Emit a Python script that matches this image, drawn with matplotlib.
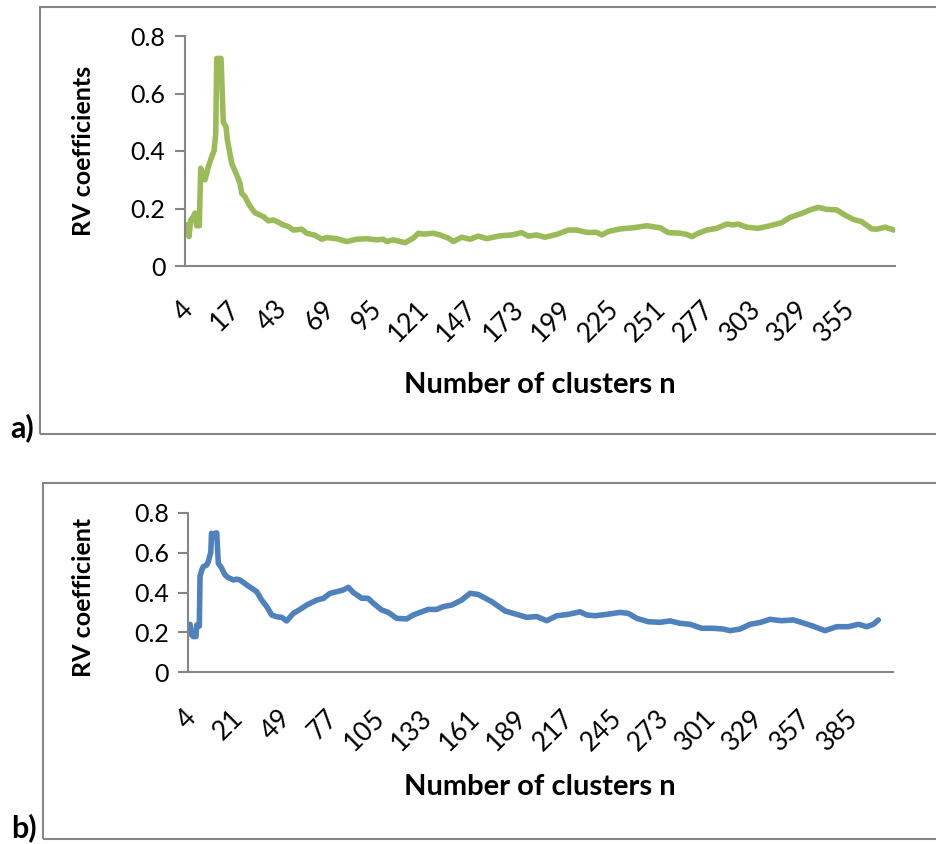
import matplotlib
matplotlib.use("Agg")
import matplotlib.pyplot as plt
from matplotlib.patches import Rectangle
from matplotlib.transforms import ScaledTranslation

plt.rcParams['font.family'] = ['Lato', 'DejaVu Sans']

# ---- data -------------------------------------------------------------
# Positions are measured along the category axis in units of one label step.
labels_a = ['4', '17', '43', '69', '95', '121', '147', '173', '199', '225',
            '251', '277', '303', '329', '355']
pos_a = [0.036, 0.085, 0.12, 0.17, 0.211, 0.247, 0.302, 0.332, 0.387, 0.423,
         0.492, 0.564, 0.613, 0.649, 0.67, 0.761, 0.809, 0.866, 0.894, 0.987,
         1.092, 1.162, 1.198, 1.268, 1.337, 1.409, 1.479, 1.654, 1.76, 1.866,
         1.937, 2.077, 2.183, 2.288, 2.466, 2.571, 2.747, 2.888, 2.994, 3.205,
         3.416, 3.628, 3.839, 4.05, 4.19, 4.262, 4.401, 4.648, 4.824, 4.929,
         5.035, 5.246, 5.388, 5.563, 5.669, 5.846, 6.022, 6.197, 6.374, 6.655,
         6.903, 7.114, 7.253, 7.431, 7.606, 7.853, 8.098, 8.276, 8.487, 8.699,
         8.804, 8.944, 9.191, 9.472, 9.755, 10.036, 10.211, 10.458, 10.6, 10.706,
         10.845, 11.023, 11.234, 11.445, 11.585, 11.684, 11.868, 12.113, 12.36, 12.607,
         12.783, 13.03, 13.205, 13.381, 13.558, 13.769, 13.945, 14.12, 14.297, 14.509,
         14.615, 14.79, 14.98]
rv_a = [0.143, 0.102, 0.16, 0.17, 0.184, 0.14, 0.14, 0.34, 0.31, 0.30,
        0.345, 0.38, 0.40, 0.46, 0.722, 0.722, 0.50, 0.485, 0.44, 0.357,
        0.317, 0.288, 0.253, 0.241, 0.218, 0.20, 0.185, 0.172, 0.157, 0.16,
        0.155, 0.143, 0.137, 0.125, 0.128, 0.114, 0.107, 0.093, 0.099, 0.095,
        0.085, 0.093, 0.095, 0.091, 0.093, 0.085, 0.091, 0.081, 0.097, 0.114,
        0.111, 0.114, 0.108, 0.097, 0.085, 0.10, 0.093, 0.104, 0.095, 0.105,
        0.108, 0.116, 0.104, 0.108, 0.10, 0.11, 0.125, 0.125, 0.117, 0.117,
        0.108, 0.12, 0.129, 0.133, 0.14, 0.133, 0.116, 0.114, 0.11, 0.102,
        0.114, 0.125, 0.131, 0.146, 0.143, 0.146, 0.135, 0.131, 0.14, 0.151,
        0.169, 0.183, 0.195, 0.204, 0.197, 0.195, 0.177, 0.162, 0.154, 0.129,
        0.128, 0.135, 0.125]

labels_b = ['4', '21', '49', '77', '105', '133', '161', '189', '217', '245',
            '273', '301', '329', '357', '385']
pos_b = [0.0, 0.036, 0.072, 0.106, 0.163, 0.178, 0.233, 0.248, 0.284, 0.317,
         0.389, 0.423, 0.459, 0.476, 0.491, 0.529, 0.565, 0.601, 0.635, 0.707,
         0.777, 0.846, 0.952, 1.024, 1.094, 1.236, 1.375, 1.447, 1.553, 1.659,
         1.765, 1.871, 1.976, 2.082, 2.222, 2.364, 2.505, 2.717, 2.857, 2.998,
         3.14, 3.28, 3.386, 3.491, 3.669, 3.802, 3.915, 4.092, 4.232, 4.41,
         4.621, 4.761, 4.903, 5.078, 5.256, 5.396, 5.573, 5.785, 5.961, 6.136,
         6.42, 6.701, 6.949, 7.16, 7.372, 7.584, 7.795, 8.041, 8.288, 8.43,
         8.606, 8.853, 9.135, 9.31, 9.488, 9.733, 9.981, 10.193, 10.404, 10.616,
         10.863, 11.109, 11.32, 11.462, 11.674, 11.885, 12.097, 12.308, 12.556, 12.801,
         12.979, 13.191, 13.472, 13.72, 13.965, 14.177, 14.355, 14.494, 14.6]
rv_b = [0.236, 0.24, 0.186, 0.178, 0.178, 0.236, 0.231, 0.48, 0.513, 0.53,
        0.538, 0.555, 0.589, 0.60, 0.698, 0.68, 0.698, 0.70, 0.547, 0.522,
        0.488, 0.475, 0.463, 0.467, 0.463, 0.438, 0.416, 0.404, 0.362, 0.329,
        0.287, 0.278, 0.275, 0.257, 0.295, 0.315, 0.337, 0.362, 0.37, 0.396,
        0.404, 0.413, 0.426, 0.40, 0.371, 0.371, 0.346, 0.312, 0.30, 0.27,
        0.267, 0.287, 0.30, 0.315, 0.315, 0.329, 0.337, 0.362, 0.396, 0.39,
        0.354, 0.307, 0.29, 0.275, 0.279, 0.258, 0.283, 0.29, 0.303, 0.287,
        0.283, 0.29, 0.30, 0.295, 0.27, 0.253, 0.25, 0.257, 0.245, 0.24,
        0.22, 0.22, 0.216, 0.208, 0.216, 0.24, 0.249, 0.265, 0.258, 0.262,
        0.249, 0.233, 0.208, 0.228, 0.228, 0.24, 0.228, 0.24, 0.262]

yticks = [0, 0.2, 0.4, 0.6, 0.8]
ytick_labels = ['0', '0.2', '0.4', '0.6', '0.8']

# ---- layout helpers (pixel coordinates, origin top-left) --------------
W, H = 936, 844
DPI = 100
fig = plt.figure(figsize=(W / DPI, H / DPI), dpi=DPI)

GRAY = '#868686'


def px_axes(left, top, right, bottom):
    return fig.add_axes([left / W, 1 - bottom / H, (right - left) / W, (bottom - top) / H])


def frame(left, top, bottom):
    fig.patches.append(Rectangle((left / W, 1 - bottom / H), (W + 20 - left) / W,
                                 (bottom - top) / H, transform=fig.transFigure,
                                 fill=False, edgecolor=GRAY, linewidth=1.5,
                                 clip_on=False))


def panel(ax, pos, rv, labels, xmax, color, ylabel, label_drop, tag, tag_xy,
          xlabel_y, ylabel_y):
    ax.plot(pos, rv, color=color, linewidth=4.0, solid_joinstyle='round',
            solid_capstyle='round')
    ax.set_xlim(0, xmax)
    ax.set_ylim(0, 0.8)
    ax.set_yticks(yticks)
    ax.set_yticklabels(ytick_labels)
    ax.set_xticks(range(len(labels)))
    ax.set_xticklabels(labels, rotation=45, ha='right', va='top',
                       rotation_mode='anchor')
    for s in ('top', 'right'):
        ax.spines[s].set_visible(False)
    for s in ('left', 'bottom'):
        ax.spines[s].set_color(GRAY)
        ax.spines[s].set_linewidth(1.5)
    ax.tick_params(axis='y', direction='out', length=7, width=1.5, color=GRAY,
                   labelsize=18, pad=7, labelcolor='black')
    ax.tick_params(axis='x', length=0, labelsize=19, pad=label_drop,
                   labelcolor='black')
    off = ScaledTranslation(-5 / DPI, 0, fig.dpi_scale_trans)
    for t in ax.get_xticklabels():
        t.set_transform(t.get_transform() + off)
    ax.set_ylabel(ylabel, fontsize=18, fontweight='bold')
    ax.yaxis.set_label_coords(95 / W, 1 - ylabel_y / H, transform=fig.transFigure)
    fig.text(540 / W, 1 - xlabel_y / H, 'Number of clusters n', fontsize=21,
             fontweight='bold', ha='center', va='center')
    fig.text(tag_xy[0] / W, 1 - tag_xy[1] / H, tag, fontsize=22,
             fontweight='bold', ha='center', va='center')


frame(40, 7, 434)
frame(43, 483, 839)

ax_a = px_axes(185, 36, 895, 266)
panel(ax_a, pos_a, rv_a, labels_a, 15.0, '#9BBB59', 'RV coefficients', 22,
      'a)', (22, 428), 385, 151)

ax_b = px_axes(188.3, 513, 893, 672)
panel(ax_b, pos_b, rv_b, labels_b, 14.91, '#4F81BD', 'RV coefficient', 24,
      'b)', (24, 828), 787, 597)

fig.savefig('out.png', dpi=DPI)
